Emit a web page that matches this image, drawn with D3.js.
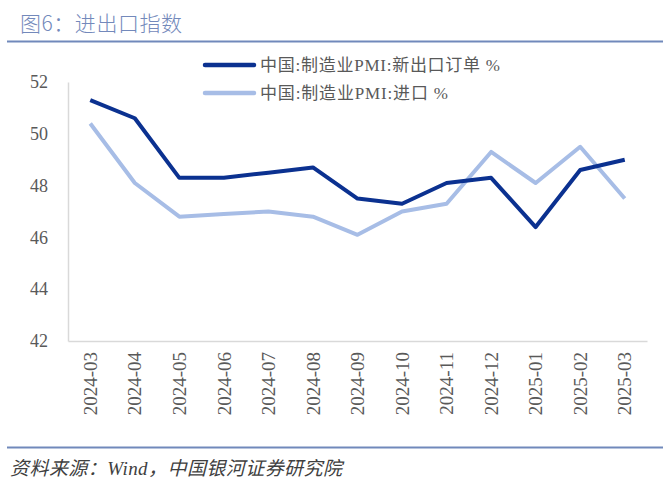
<!DOCTYPE html>
<html><head><meta charset="utf-8">
<script src="https://cdn.jsdelivr.net/npm/d3@7"></script>
<style>body{margin:0;background:#fff}svg{display:block}</style>
</head><body>
<svg id="c" width="671" height="488"></svg>
<script>
const categories = ["2024-03","2024-04","2024-05","2024-06","2024-07","2024-08","2024-09","2024-10","2024-11","2024-12","2025-01","2025-02","2025-03"];
const exportOrders = [51.3,50.6,48.3,48.3,48.5,48.7,47.5,47.3,48.1,48.3,46.4,48.6,49.0];
const imports = [50.4,48.1,46.8,46.9,47.0,46.8,46.1,47.0,47.3,49.3,48.1,49.5,47.5];
const yTicks = [42,44,46,48,50,52];
const seriesNames = ["中国:制造业PMI:新出口订单 %","中国:制造业PMI:进口 %"];
const colors = ["#0b3190","#a7bde6"];

const svg = d3.select("#c");
const font = "'Liberation Serif','Noto Sans CJK SC',serif";
const cjk = "'Noto Sans CJK SC',sans-serif";

// title
svg.append("text").attr("x",20).attr("y",31).attr("font-family",cjk).attr("font-size",21)
  .attr("font-weight",300).attr("fill","#7389bb").attr("textLength",162).text("图6：进出口指数");
svg.append("line").attr("x1",7).attr("x2",663).attr("y1",41.5).attr("y2",41.5)
  .attr("stroke","#7189bb").attr("stroke-width",2);

const x = d3.scaleBand().domain(categories).range([68,647]);
const y = d3.scaleLinear().domain([42,52]).range([341,82]);

// axes
const ya = svg.append("g").attr("transform","translate(68,0)")
  .call(d3.axisLeft(y).tickValues(yTicks).tickSize(0).tickPadding(20));
ya.select(".domain").attr("stroke","#d9d9d9").attr("stroke-width",1.5);
ya.selectAll("text").attr("font-family",font).attr("font-size",18).attr("fill","#595959");

const xa = svg.append("g").attr("transform","translate(0,341)")
  .call(d3.axisBottom(x).tickSize(0).tickPadding(0));
xa.select(".domain").attr("stroke","#d9d9d9").attr("stroke-width",1.5);
xa.selectAll("text").attr("font-family",font).attr("font-size",19).attr("fill","#595959")
  .attr("text-anchor","end").attr("dy","0.35em")
  .attr("transform","translate(0,11) rotate(-90)");

// lines
const line = d3.line().x((d,i)=>x(categories[i])+x.bandwidth()/2).y(d=>y(d));
[imports, exportOrders].forEach((s,k)=>{
  svg.append("path").datum(s).attr("d",line).attr("fill","none")
    .attr("stroke", k===0?colors[1]:colors[0]).attr("stroke-width",4)
    .attr("stroke-linejoin","round");
});

// legend
const legendLen = [240, 188];
seriesNames.forEach((n,i)=>{
  const ly = 65 + i*28;
  svg.append("line").attr("x1",205).attr("x2",254).attr("y1",ly).attr("y2",ly)
    .attr("stroke",colors[i]).attr("stroke-width",4.5).attr("stroke-linecap","round");
  svg.append("text").attr("x",260).attr("y",ly).attr("dy","0.35em")
    .attr("font-family",font).attr("font-size",17).attr("fill","#595959")
    .attr("textLength",legendLen[i]).text(n);
});

// footer
svg.append("line").attr("x1",7).attr("x2",663).attr("y1",447.5).attr("y2",447.5)
  .attr("stroke","#7189bb").attr("stroke-width",2);
svg.append("text").attr("x",10).attr("y",475).attr("font-family",font).attr("font-size",19)
  .attr("font-style","italic").attr("fill","#404040").attr("textLength",332)
  .text("资料来源：Wind，中国银河证券研究院");
</script>
</body></html>
